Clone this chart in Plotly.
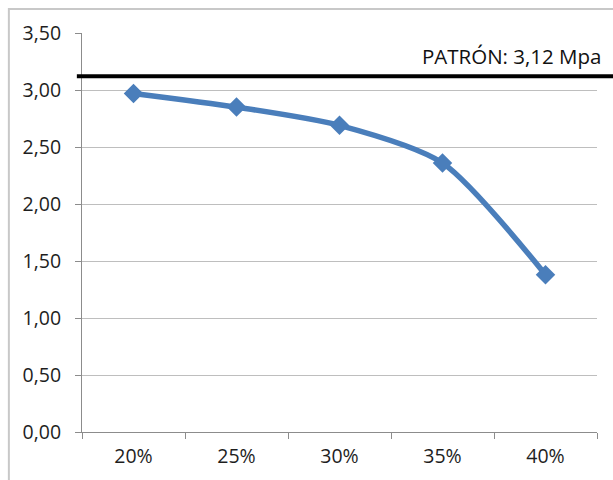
import plotly.graph_objects as go

# Compressive strength by replacement percentage
categories = ["20%", "25%", "30%", "35%", "40%"]
strength = [2.97, 2.85, 2.69, 2.36, 1.38]

# Reference (control) value
patron_value = 3.12
patron_label = "PATRÓN: 3,12 Mpa"

y_ticks = [0, 0.5, 1.0, 1.5, 2.0, 2.5, 3.0, 3.5]

FONT = "Open Sans"
TEXT = "#1E1E1E"

fig = go.Figure()

fig.add_trace(go.Scatter(
    x=categories,
    y=strength,
    mode="lines+markers",
    line=dict(color="#4A7EBB", width=5.5, shape="spline", smoothing=0.7),
    marker=dict(symbol="diamond", size=15, color="#4A7EBB"),
    showlegend=False,
    hoverinfo="x+y",
))

# Reference line
fig.add_shape(
    type="line", xref="paper", yref="y",
    x0=-0.01, x1=1.04, y0=patron_value, y1=patron_value,
    line=dict(color="black", width=4),
    layer="above",
)

fig.add_annotation(
    text=patron_label, xref="paper", yref="y",
    x=1.014, y=3.30, xanchor="right", yanchor="middle",
    showarrow=False,
    font=dict(family=FONT, size=20.5, color="#111111"),
)

# Outer chart frame (left and top edges)
fig.add_shape(
    type="rect", xref="paper", yref="paper",
    x0=-0.142, x1=1.2, y0=-0.3, y1=1.06,
    line=dict(color="#C8C8C8", width=2),
    layer="below",
)

fig.update_layout(
    width=613, height=480,
    margin=dict(l=82, r=16, t=33, b=48),
    paper_bgcolor="white",
    plot_bgcolor="white",
    separators=", ",
    font=dict(family=FONT, size=20, color=TEXT),
    xaxis=dict(
        type="category",
        range=[-0.5, 4.5],
        showgrid=False,
        showline=True, linecolor="#8C8C8C", linewidth=1,
        ticks="outside", tickson="boundaries", ticklen=6, tickcolor="#8C8C8C",
        ticklabelstandoff=7,
        tickfont=dict(family=FONT, size=19.5, color=TEXT),
        zeroline=False,
        fixedrange=True,
    ),
    yaxis=dict(
        range=[0, 3.5],
        tickvals=y_ticks,
        tickformat=".2f",
        showgrid=True, gridcolor="#BEBEBE", gridwidth=1,
        showline=True, linecolor="#8C8C8C", linewidth=1,
        ticks="outside", ticklen=6, tickcolor="#8C8C8C",
        ticklabelstandoff=10,
        tickfont=dict(family=FONT, size=19.5, color=TEXT),
        zeroline=False,
        fixedrange=True,
    ),
)

fig.write_html("out.html")
